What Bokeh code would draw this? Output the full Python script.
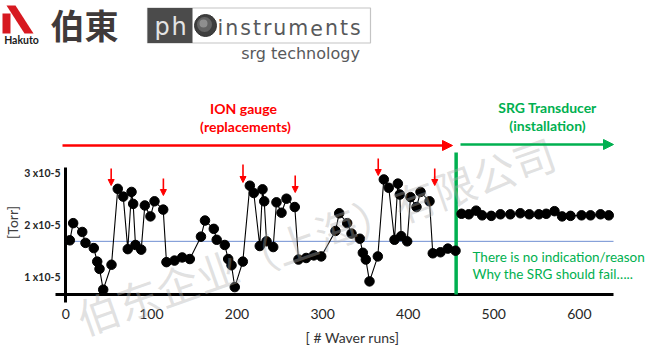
import math
from bokeh.plotting import figure
from bokeh.models import Range1d, Arrow, NormalHead
from bokeh.core.properties import value
from bokeh.embed import file_html
from bokeh.resources import INLINE

# ---------------- data (x: wafer runs, y: pressure in 1e-5 Torr) ----------------
ion_runs = [4.7, 8.6, 19.2, 23.0, 32.7, 36.7, 39.4, 43.7, 53.4, 60.7, 67.1, 72.4,
            76.8, 78.7, 81.4, 88.1, 92.3, 98.9, 103.6, 113.8, 117.6, 127.0, 136.0, 144.9,
            157.9, 162.6, 172.9, 176.3, 185.7, 189.7, 193.6, 197.4, 206.8, 215.0, 219.6, 226.6,
            229.8, 231.8, 234.5, 242.3, 246.1, 252.0, 257.8, 267.5, 271.8, 280.8, 289.7, 298.4,
            315.1, 319.4, 328.7, 333.8, 343.5, 347.0, 350.5, 354.8, 364.5, 371.5, 377.3, 384.0,
            387.9, 390.2, 391.8, 398.8, 402.7, 409.7, 414.4, 424.9, 428.7, 437.7, 446.3, 455.3]
ion_pressure = [1.70, 2.03, 1.86, 1.65, 1.55, 1.29, 1.15, 0.75, 1.23, 2.69, 2.54, 1.53,
                2.63, 2.40, 1.61, 1.52, 2.37, 2.16, 2.45, 2.29, 1.28, 1.31, 1.37, 1.34,
                1.77, 2.08, 1.92, 1.71, 1.61, 1.34, 1.22, 0.80, 1.29, 2.75, 2.61, 1.59,
                2.68, 2.45, 1.68, 1.57, 2.43, 2.23, 2.50, 2.34, 1.33, 1.36, 1.41, 1.39,
                1.88, 2.22, 2.03, 1.83, 1.73, 1.46, 1.33, 0.91, 1.39, 2.87, 2.71, 1.71,
                2.79, 2.58, 1.78, 1.68, 2.53, 2.34, 2.63, 2.45, 1.45, 1.47, 1.54, 1.50]
srg_runs = [462.3, 470.8, 479.4, 486.4, 497.0, 507.8, 519.3, 531.0, 541.5, 552.6,
            561.2, 570.9, 579.8, 589.6, 602.5, 613.0, 624.7, 634.3]
srg_pressure = [2.21, 2.20, 2.27, 2.18, 2.17, 2.20, 2.20, 2.22, 2.20, 2.20,
                2.21, 2.26, 2.16, 2.17, 2.18, 2.18, 2.20, 2.18]
replacement_runs = [53, 114, 207, 268, 365, 431]
reference_level = 1.68
srg_install_run = 456

x_ticks = [0, 100, 200, 300, 400, 500, 600]
x_tick_labels = ["0", "100", "200", "300", "400", "500", "600"]
y_ticks = [1, 2, 3]
y_tick_labels = ["1 x10-5", "2 x10-5", "3 x10-5"]

RED = "#ff0000"
GREEN = "#00b050"
BLUE = "#6f8fd2"

# layout helpers: pixel position on the 660x354 page -> data coordinates
X0, SX = 65.3, 0.856
PY0, Y0, SY = 224.2, 2.0, 52.0
def X(px):
    return (px - X0) / SX
def Y(py):
    return Y0 - (py - PY0) / SY

W, H = 660, 354
p = figure(width=W, height=H, x_range=Range1d(X(0), X(W)), y_range=Range1d(Y(H), Y(0)),
           output_backend="svg", toolbar_location=None,
           x_axis_location=None, y_axis_location=None, min_border=0)
p.grid.visible = False
p.outline_line_color = None
p.background_fill_color = "white"
p.border_fill_color = "white"

def txt(px, py, s, size, color, font="Lato", style="normal", align="center", angle=0.0, alpha=1.0):
    p.text(x=[X(px)], y=[Y(py)], text=[s], text_font=value(font), text_font_size=value(f"{size}px"),
           text_font_style=style, text_color=color, text_align=align, text_baseline="middle",
           angle=angle, text_alpha=alpha)

# ---------------- logos ----------------
KRED = "#d71920"
p.quad(left=[X(2)], right=[X(10)], top=[Y(13)], bottom=[Y(33)], fill_color=KRED, line_color=None)
p.patch(x=[X(6), X(15), X(33), X(24)], y=[Y(5), Y(5), Y(33), Y(33)], fill_color=KRED, line_color=None)
txt(21, 39, "Hakuto", 10.5, "#1a1a1a", style="bold")
txt(84, 24, "伯東", 34, "#3f3a3a", font="Noto Sans CJK JP", style="bold")

p.quad(left=[X(147)], right=[X(370)], top=[Y(7.5)], bottom=[Y(42.5)], fill_color="white",
       line_color="#c4c4c4", line_width=1.2)
p.quad(left=[X(147)], right=[X(192)], top=[Y(7.5)], bottom=[Y(42.5)], fill_color="#4b4b4b", line_color=None)
txt(154, 26, "p", 24, "#e4e4e4", font="DejaVu Sans", align="left")
txt(171, 26, "h", 24, "#e4e4e4", font="DejaVu Sans", align="left")
p.scatter(x=[X(205)], y=[Y(25)], size=22, fill_color="#3e3e3e", line_color="#333333")
p.scatter(x=[X(204)], y=[Y(24)], size=15, fill_color="#6a6a6a", line_color=None, fill_alpha=0.85)
p.scatter(x=[X(203)], y=[Y(23)], size=8, fill_color="#9a9a9a", line_color=None, fill_alpha=0.8)
widths = {"i": 0.278, "n": 0.634, "s": 0.521, "t": 0.392, "r": 0.411, "u": 0.634, "m": 0.974, "e": 0.615}
cx = 217.0
for ch in "instruments":
    txt(cx, 27, ch, 20.5, "#58595b", font="DejaVu Sans", align="left")
    cx += widths[ch] * 20.5 + 2.0
txt(300, 53, "srg technology", 16, "#58595b", font="DejaVu Sans")

# ---------------- annotations ----------------
txt(243, 108, "ION gauge", 14, RED, style="bold")
txt(245, 126, "(replacements)", 14, RED, style="bold")
txt(547, 107, "SRG Transducer", 14, GREEN, style="bold")
txt(547, 125, "(installation)", 14, GREEN, style="bold")

p.add_layout(Arrow(end=NormalHead(size=10, fill_color=RED, line_color=RED),
                   x_start=X(62), y_start=Y(145), x_end=X(452), y_end=Y(145),
                   line_color=RED, line_width=2.5))
p.add_layout(Arrow(end=NormalHead(size=10, fill_color=GREEN, line_color=GREEN),
                   x_start=X(460), y_start=Y(144), x_end=X(613), y_end=Y(144),
                   line_color=GREEN, line_width=2.5))

arrow_top_px = [168, 178, 164, 175, 158, 168]
arrow_tip_px = [185, 195, 182, 192, 175, 185]
for r, t0, t1 in zip(replacement_runs, arrow_top_px, arrow_tip_px):
    p.add_layout(Arrow(end=NormalHead(size=6, fill_color=RED, line_color=RED),
                       x_start=r, y_start=Y(t0), x_end=r, y_end=Y(t1),
                       line_color=RED, line_width=1.6))

# ---------------- axes (drawn) ----------------
p.segment(x0=[X(65)], y0=[Y(167)], x1=[X(65)], y1=[Y(302)], line_color="black", line_width=3)
p.segment(x0=[X(55)], y0=[Y(294)], x1=[X(613)], y1=[Y(294)], line_color="black", line_width=3)
p.segment(x0=[X(65)], y0=[reference_level], x1=[X(613)], y1=[reference_level], line_color=BLUE, line_width=1)
p.segment(x0=[srg_install_run], y0=[Y(152)], x1=[srg_install_run], y1=[Y(294)], line_color=GREEN, line_width=3.5)

p.text(x=x_ticks, y=[Y(313)] * len(x_ticks), text=x_tick_labels, text_font=value("Lato"),
       text_font_size=value("14px"), text_color="#262626", text_align="center", text_baseline="middle")
p.text(x=[X(60)] * len(y_ticks), y=y_ticks, text=y_tick_labels, text_font=value("Lato"),
       text_font_size=value("10.5px"), text_font_style="bold", text_color="#262626",
       text_align="right", text_baseline="middle")
txt(352, 337, "[ # Waver runs]", 14, "#333333")
txt(12, 222, "[Torr]", 14, "#404040", angle=math.pi / 2)

txt(472, 256, "There is no indication/reason", 13.5, GREEN, align="left")
txt(472, 273, "Why the SRG should fail…..", 13.5, GREEN, align="left")

# ---------------- data ----------------
p.line(ion_runs, ion_pressure, line_color="black", line_width=1.1)
p.scatter(ion_runs, ion_pressure, size=9.5, fill_color="black", line_color="black")
p.line(srg_runs, srg_pressure, line_color="black", line_width=1.1)
p.scatter(srg_runs, srg_pressure, size=9.5, fill_color="black", line_color="black")

# ---------------- watermark ----------------
txt(315, 234, "伯东企业（上海）有限公司", 42, "#b0b0b0", font="Noto Sans CJK SC",
    angle=math.radians(19.5), alpha=0.38)

open("out.html", "w").write(file_html(p, INLINE))
